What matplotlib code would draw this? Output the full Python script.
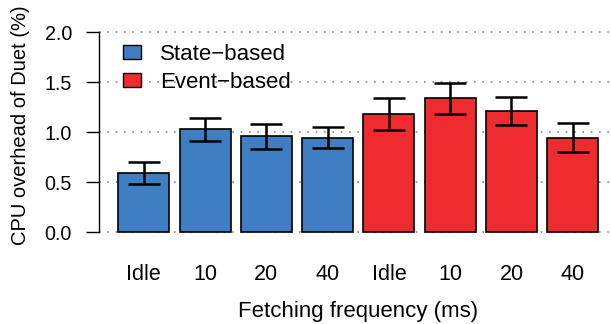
import numpy as np
import matplotlib
matplotlib.use("Agg")
import matplotlib.pyplot as plt
from matplotlib.patches import Patch

plt.rcParams['font.family'] = ['Liberation Sans', 'DejaVu Sans']

labels = ["Idle", "10", "20", "40", "Idle", "10", "20", "40"]
state_mean = [0.59, 1.03, 0.96, 0.945]
state_err = [0.11, 0.115, 0.125, 0.105]
event_mean = [1.18, 1.34, 1.21, 0.945]
event_err = [0.16, 0.155, 0.14, 0.148]

blue = "#3F7EC2"
red = "#EE2C30"

means = state_mean + event_mean
errs = state_err + event_err
colors = [blue] * len(state_mean) + [red] * len(event_mean)
x = np.arange(len(means)) * 1.2 + 0.7

fig = plt.figure(figsize=(6.11, 3.24), dpi=100)
ax = fig.add_axes([99.1 / 611, 84 / 324, (611 - 99.1) / 611, 216 / 324])

for yv in [0, 0.5, 1.0, 1.5, 2.0]:
    ax.axhline(yv, color="#888888", lw=1.2, ls=(0, (1, 4)), zorder=0)

ax.bar(x, means, width=1.0, color=colors, edgecolor="black", linewidth=1.2, zorder=2)
ax.errorbar(x, means, yerr=errs, fmt="none", ecolor="black", elinewidth=1.8,
            capsize=11.6, capthick=1.8, zorder=3)

ax.set_xlim(-0.176, -0.176 + (611 - 99.1) / 51.06)
ax.set_ylim(-0.08, 2.08)

for s in ["top", "right", "bottom"]:
    ax.spines[s].set_visible(False)
ax.spines["left"].set_bounds(0, 2)
ax.spines["left"].set_linewidth(1.0)
ax.set_yticks([0, 0.5, 1.0, 1.5, 2.0])
ax.set_yticklabels(["0.0", "0.5", "1.0", "1.5", "2.0"], fontsize=14.2)
ax.tick_params(axis="y", length=9.5, width=1.0, pad=10)
ax.set_xticks(x)
ax.set_xticklabels(labels, fontsize=15.5)
ax.tick_params(axis="x", length=0, pad=17)

fig.text(358 / 611, (324 - 311) / 324, "Fetching frequency (ms)", fontsize=16,
         ha="center", va="center")
fig.text(21 / 611, (324 - 125) / 324, "CPU overhead of Duet (%)", fontsize=14.5,
         ha="center", va="center", rotation=90)

handles = [Patch(facecolor=blue, edgecolor="black", lw=1.0),
           Patch(facecolor=red, edgecolor="black", lw=1.0)]
ax.legend(handles, ["State\u2212based", "Event\u2212based"], loc="upper left",
          bbox_to_anchor=(123 / 611, (324 - 44) / 324), bbox_transform=fig.transFigure,
          frameon=False, fontsize=16, borderpad=0, borderaxespad=0,
          handlelength=0.82, handleheight=0.6, handletextpad=0.85, labelspacing=0.3)

fig.savefig("out.png", dpi=100)
